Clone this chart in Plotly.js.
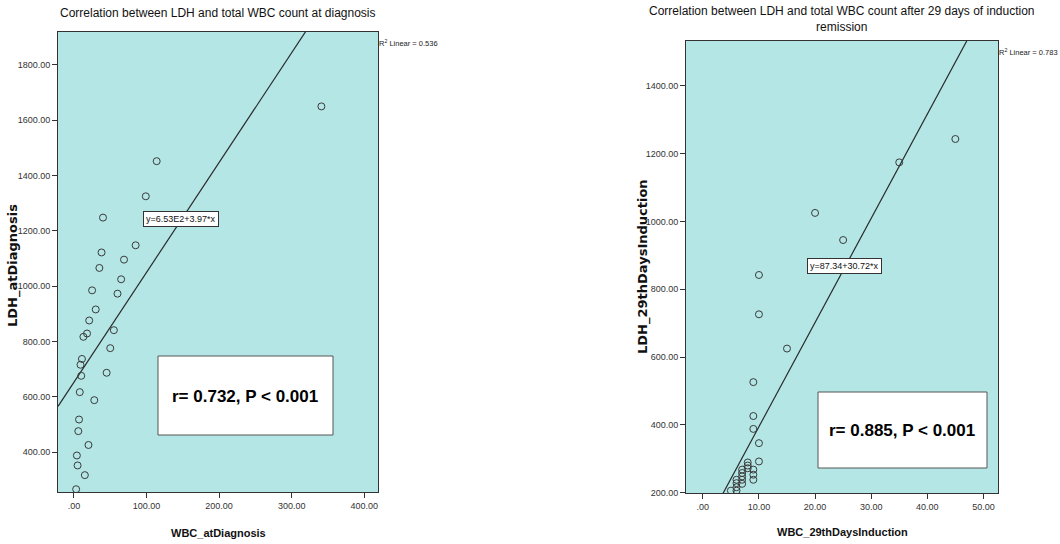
<!DOCTYPE html>
<html>
<head>
<meta charset="utf-8">
<script src="https://cdn.plot.ly/plotly-3.0.1.min.js"></script>
<style>html,body{margin:0;padding:0;background:#fff;}#chart{width:1060px;height:544px;}</style>
</head>
<body>
<div id="chart"></div>
<script>
// ---- Data ----
const wbcDiag = [114, 99, 40, 38, 85, 69, 35, 65, 25, 60, 30, 21, 18, 13, 55, 50, 11, 9, 10, 45, 8, 28, 7, 6, 20, 4, 5, 15, 3, 341];
const ldhDiag = [1452, 1325, 1248, 1122, 1148, 1096, 1066, 1025, 985, 973, 916, 876, 829, 817, 841, 776, 737, 716, 676, 687, 617, 588, 518, 476, 426, 388, 352, 317, 266, 1650];

const wbc29 = [20, 25, 10, 10, 15, 9, 9, 9, 10, 10, 9, 9, 9, 8, 8, 8, 7, 7, 7, 7, 7, 6, 6, 6, 6, 5, 35, 45];
const ldh29 = [1025, 945, 842, 726, 625, 526, 426, 388, 346, 292, 268, 253, 238, 289, 280, 272, 268, 258, 248, 238, 226, 238, 228, 216, 206, 206, 1174, 1243];

// regression coefficients (intercept, slope) and R^2 as printed
const fitDiag = {a: 653, b: 3.97, r2: '0.536', eq: 'y=6.53E2+3.97*x', r: 'r= 0.732, P < 0.001'};
const fit29 = {a: 87.34, b: 30.72, r2: '0.783', eq: 'y=87.34+30.72*x', r: 'r= 0.885, P < 0.001'};

const xTicksDiag = [0, 100, 200, 300, 400];
const xTickTextDiag = ['.00', '100.00', '200.00', '300.00', '400.00'];
const yTicksDiag = [400, 600, 800, 1000, 1200, 1400, 1600, 1800];
const yTickTextDiag = ['400.00', '600.00', '800.00', '1000.00', '1200.00', '1400.00', '1600.00', '1800.00'];

const xTicks29 = [0, 10, 20, 30, 40, 50];
const xTickText29 = ['.00', '10.00', '20.00', '30.00', '40.00', '50.00'];
const yTicks29 = [200, 400, 600, 800, 1000, 1200, 1400];
const yTickText29 = ['200.00', '400.00', '600.00', '800.00', '1000.00', '1200.00', '1400.00'];

// ---- Layout geometry ----
const W = 1060, H = 544;
const px = v => v / W;
const py = v => 1 - v / H;
const sans = '"Liberation Sans", Arial, sans-serif';
const wide = '"DejaVu Sans", sans-serif';

const xrDiag = [-22, 419], yrDiag = [256, 1919];
const xr29 = [-3.0, 52.6], yr29 = [199, 1532];

const markerStyle = {symbol: 'circle-open', size: 7, color: '#3a3a3a', line: {width: 1, color: '#3a3a3a'}};

const traces = [
  {x: xrDiag, y: xrDiag.map(v => fitDiag.a + fitDiag.b * v),
   mode: 'lines', line: {color: '#2a2a2a', width: 1.2}, xaxis: 'x', yaxis: 'y', hoverinfo: 'skip'},
  {x: wbcDiag, y: ldhDiag, mode: 'markers', marker: markerStyle, xaxis: 'x', yaxis: 'y'},
  {x: xr29, y: xr29.map(v => fit29.a + fit29.b * v),
   mode: 'lines', line: {color: '#2a2a2a', width: 1.2}, xaxis: 'x2', yaxis: 'y2', hoverinfo: 'skip'},
  {x: wbc29, y: ldh29, mode: 'markers', marker: markerStyle, xaxis: 'x2', yaxis: 'y2'}
];

const axisCommon = {
  showgrid: false, zeroline: false, showline: true, mirror: true,
  linecolor: '#333', linewidth: 1, ticks: 'outside', ticklen: 5, tickwidth: 1,
  tickcolor: '#333', tickfont: {family: sans, size: 9, color: '#333'}, tickmode: 'array'
};

const layout = {
  width: W, height: H, margin: {l: 0, r: 0, t: 0, b: 0},
  paper_bgcolor: '#ffffff', plot_bgcolor: '#b4e6e6', showlegend: false,
  xaxis: Object.assign({}, axisCommon, {domain: [px(58), px(378)], range: xrDiag, anchor: 'y',
    tickvals: xTicksDiag, ticktext: xTickTextDiag}),
  yaxis: Object.assign({}, axisCommon, {domain: [py(492), py(32)], range: yrDiag, anchor: 'x',
    tickvals: yTicksDiag, ticktext: yTickTextDiag}),
  xaxis2: Object.assign({}, axisCommon, {domain: [px(686), px(998)], range: xr29, anchor: 'y2',
    tickvals: xTicks29, ticktext: xTickText29}),
  yaxis2: Object.assign({}, axisCommon, {domain: [py(493), py(41)], range: yr29, anchor: 'x2',
    tickvals: yTicks29, ticktext: yTickText29}),
  shapes: [
    {type: 'rect', xref: 'paper', yref: 'paper', x0: px(158), x1: px(333), y0: py(435), y1: py(356),
     fillcolor: '#ffffff', line: {color: '#555', width: 1}, layer: 'above'},
    {type: 'rect', xref: 'paper', yref: 'paper', x0: px(818), x1: px(987), y0: py(468), y1: py(392),
     fillcolor: '#ffffff', line: {color: '#555', width: 1}, layer: 'above'}
  ],
  annotations: [
    {text: 'Correlation between LDH and total WBC count at diagnosis', xref: 'paper', yref: 'paper',
     x: px(218), y: py(13), xanchor: 'center', yanchor: 'middle', showarrow: false,
     font: {family: sans, size: 12, color: '#111'}},
    {text: 'Correlation between LDH and total WBC count after 29 days of induction<br>remission', xref: 'paper', yref: 'paper',
     x: px(842), y: py(19), xanchor: 'center', yanchor: 'middle', showarrow: false,
     font: {family: sans, size: 12, color: '#111'}},
    {text: 'WBC_atDiagnosis', xref: 'paper', yref: 'paper', x: px(218), y: py(533),
     xanchor: 'center', yanchor: 'middle', showarrow: false, font: {family: sans, size: 11, color: '#111', weight: 'bold'}},
    {text: 'LDH_atDiagnosis', xref: 'paper', yref: 'paper', x: px(13), y: py(266), textangle: -90,
     xanchor: 'center', yanchor: 'middle', showarrow: false, font: {family: wide, size: 13, color: '#111', weight: 'bold'}},
    {text: 'WBC_29thDaysInduction', xref: 'paper', yref: 'paper', x: px(842), y: py(532),
     xanchor: 'center', yanchor: 'middle', showarrow: false, font: {family: sans, size: 11, color: '#111', weight: 'bold'}},
    {text: 'LDH_29thDaysInduction', xref: 'paper', yref: 'paper', x: px(643), y: py(267), textangle: -90,
     xanchor: 'center', yanchor: 'middle', showarrow: false, font: {family: wide, size: 13, color: '#111', weight: 'bold'}},
    {text: 'R<sup>2</sup> Linear = ' + fitDiag.r2, xref: 'paper', yref: 'paper', x: px(377), y: py(43),
     xanchor: 'left', yanchor: 'middle', showarrow: false, font: {family: sans, size: 7.5, color: '#222'}},
    {text: 'R<sup>2</sup> Linear = ' + fit29.r2, xref: 'paper', yref: 'paper', x: px(997), y: py(52),
     xanchor: 'left', yanchor: 'middle', showarrow: false, font: {family: sans, size: 7.5, color: '#222'}},
    {text: fitDiag.eq, xref: 'paper', yref: 'paper', x: px(181), y: py(219),
     xanchor: 'center', yanchor: 'middle', showarrow: false, bgcolor: '#ffffff', bordercolor: '#333',
     borderwidth: 1, borderpad: 2, font: {family: sans, size: 9, color: '#111'}},
    {text: fit29.eq, xref: 'paper', yref: 'paper', x: px(844), y: py(266),
     xanchor: 'center', yanchor: 'middle', showarrow: false, bgcolor: '#ffffff', bordercolor: '#333',
     borderwidth: 1, borderpad: 2, font: {family: sans, size: 9, color: '#111'}},
    {text: fitDiag.r, xref: 'paper', yref: 'paper', x: px(245), y: py(396),
     xanchor: 'center', yanchor: 'middle', showarrow: false,
     font: {family: sans, size: 17, color: '#000', weight: 'bold'}},
    {text: fit29.r, xref: 'paper', yref: 'paper', x: px(902), y: py(430),
     xanchor: 'center', yanchor: 'middle', showarrow: false,
     font: {family: sans, size: 17, color: '#000', weight: 'bold'}}
  ]
};

Plotly.newPlot('chart', traces, layout, {displayModeBar: false, staticPlot: true});
</script>
</body>
</html>
